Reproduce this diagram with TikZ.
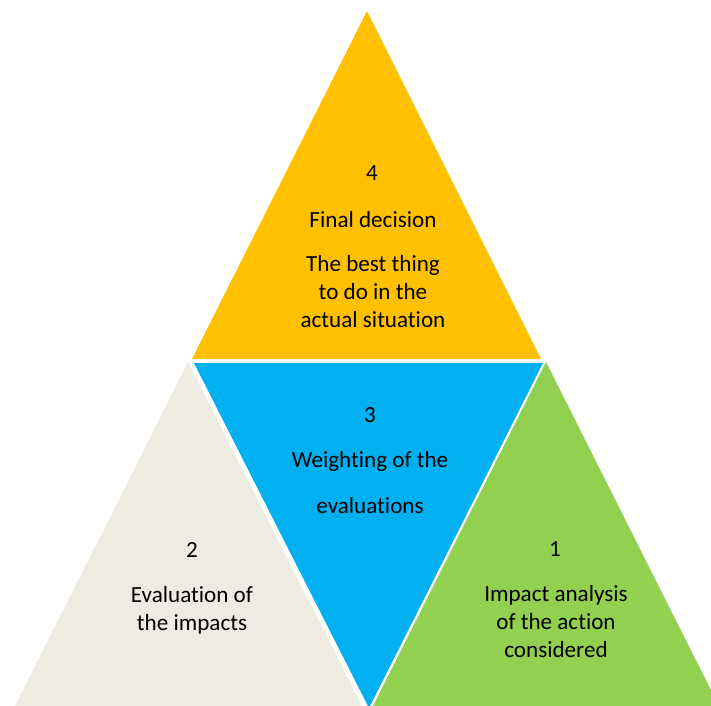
\documentclass[tikz,border=0pt]{standalone}
\usepackage{fontspec}
\setmainfont[Ligatures=NoCommon]{Carlito}
\definecolor{cyellow}{HTML}{FFC000}
\definecolor{cblue}{HTML}{00B0F0}
\definecolor{cgreen}{HTML}{92D050}
\definecolor{cbeige}{HTML}{EEECE1}
\begin{document}
\begin{tikzpicture}[x=1bp,y=-1bp,
  lbl/.style={anchor=base,align=center,inner sep=0pt,font=\fontsize{23.2}{28}\selectfont,text=black}]
\useasboundingbox (0,0) rectangle (711,706);
\clip (0,0) rectangle (711,706);
% triangles
\fill[cyellow] (367,11) -- (192,359) -- (541,359) -- cycle;
\fill[cbeige] (188,362) -- (15,706) -- (362,706) -- cycle;
\fill[cblue] (194,363) -- (543,363) -- (369,708) -- cycle;
\fill[cgreen] (546,362) -- (373,706) -- (719,706) -- cycle;
% texts (multi-line nodes are anchored at the baseline of their last line)
\node[lbl] (n4) at (372,180) {4};
\node[lbl] (final) at (373,227) {Final decision};
\node[lbl] (best) at (373,327) {The best thing\\to do in the\\actual situation};
\node[lbl] (n3) at (370,422) {3};
\node[lbl] (weight) at (370,467) {Weighting of the};
\node[lbl] (evals) at (370,513) {evaluations};
\node[lbl] (n2) at (192,557) {2};
\node[lbl] (evalimp) at (192,630) {Evaluation of\\the impacts};
\node[lbl] (n1) at (555,556) {1};
\node[lbl] (impact) at (556,657) {Impact analysis\\of the action\\considered};
\end{tikzpicture}
\end{document}
